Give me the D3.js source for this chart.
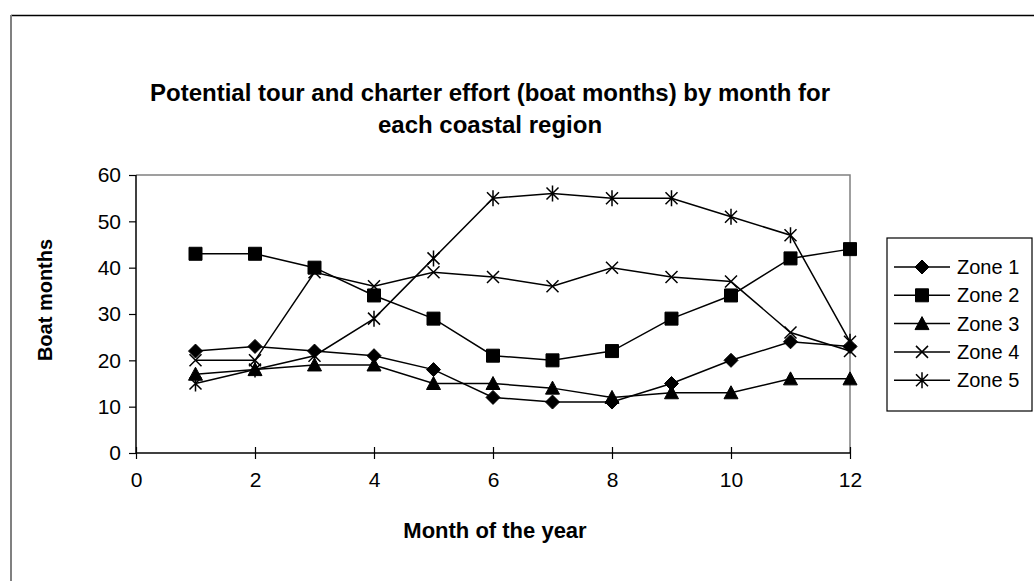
<!DOCTYPE html>
<html><head><meta charset="utf-8">
<script src="https://cdn.jsdelivr.net/npm/d3@7"></script>
<style>body{margin:0;background:#fff}svg{display:block}text{font-family:"Liberation Sans",Arial,sans-serif;fill:#000}</style>
</head><body>
<script>
const months = [1,2,3,4,5,6,7,8,9,10,11,12];
const zoneNames = ["Zone 1","Zone 2","Zone 3","Zone 4","Zone 5"];
const zone1 = [22,23,22,21,18,12,11,11,15,20,24,23];
const zone2 = [43,43,40,34,29,21,20,22,29,34,42,44];
const zone3 = [17,18,19,19,15,15,14,12,13,13,16,16];
const zone4 = [20,20,39,36,39,38,36,40,38,37,26,22];
const zone5 = [15,18,21,29,42,55,56,55,55,51,47,24];
const xTicks = [0,2,4,6,8,10,12];
const yTicks = [0,10,20,30,40,50,60];
const titleLines = ["Potential tour and charter effort (boat months) by month for","each coastal region"];

const W=1034,H=581;
const svg=d3.select("body").append("svg").attr("width",W).attr("height",H);
svg.append("line").attr("x1",11).attr("x2",W).attr("y1",15.5).attr("y2",15.5).attr("stroke","#000").attr("stroke-width",1.5);
svg.append("line").attr("x1",11).attr("x2",11).attr("y1",15).attr("y2",H).attr("stroke","#808080").attr("stroke-width",2);

const x=d3.scaleLinear().domain([0,12]).range([136,850]);
const y=d3.scaleLinear().domain([0,60]).range([453,175]);

svg.append("path").attr("d",`M${x(0)},${y(60)}H${x(12)}V${y(0)}`).attr("fill","none").attr("stroke","#808080").attr("stroke-width",1.5);

const ya=svg.append("g").attr("transform",`translate(${x(0)},0)`).call(d3.axisLeft(y).tickValues(yTicks).tickSize(7).tickPadding(8).tickFormat(d3.format("d")));
const xa=svg.append("g").attr("transform",`translate(0,${y(0)})`).call(d3.axisBottom(x).tickValues(xTicks).tickSize(6).tickPadding(13).tickFormat(d3.format("d")));
xa.selectAll(".tick line").attr("y1",-6);
[ya,xa].forEach(g=>{g.selectAll("path.domain").attr("stroke","#000").attr("stroke-width",1.5);
 g.selectAll(".tick line").attr("stroke","#000").attr("stroke-width",1.2);
 g.selectAll("text").style("font-size","21px").style("font-family","'Liberation Sans',Arial,sans-serif").attr("fill","#000");});
ya.select("path.domain").attr("d",`M0,${y(60)}V${y(0)}`);
xa.select("path.domain").attr("d",`M${x(0)},0H${x(12)}`);

svg.append("text").attr("text-anchor","middle").style("font-weight","bold").style("font-size","24px")
 .selectAll("tspan").data(titleLines).join("tspan").attr("x",490).attr("y",(d,i)=>101+i*32).text(d=>d);
svg.append("text").attr("transform",`translate(45,300) rotate(-90)`).attr("text-anchor","middle").attr("dy","0.35em")
 .style("font-weight","bold").style("font-size","20px").text("Boat months");
svg.append("text").attr("x",495).attr("y",530).attr("text-anchor","middle").attr("dy","0.35em")
 .style("font-weight","bold").style("font-size","22px").text("Month of the year");

function marker(kind){
 switch(kind){
  case 0: return "M0,-7L7,0L0,7L-7,0Z";
  case 1: return "M-6.5,-6.5H6.5V6.5H-6.5Z";
  case 2: return "M0,-7L7,6H-7Z";
  case 3: return "M-6,-6L6,6M-6,6L6,-6";
  case 4: return "M-6,-6L6,6M-6,6L6,-6M0,-8V8";
 }
}
const series=[zone1,zone2,zone3,zone4,zone5];
const line=d3.line().x((d,i)=>x(months[i])).y(d=>y(d));
series.forEach((s,k)=>{
 const g=svg.append("g");
 g.append("path").attr("d",line(s)).attr("fill","none").attr("stroke","#000").attr("stroke-width",1.5);
 g.selectAll("path.m").data(s).join("path").attr("class","m")
  .attr("transform",(d,i)=>`translate(${x(months[i])},${y(d)})`).attr("d",marker(k))
  .attr("fill",k<3?"#000":"none").attr("stroke","#000").attr("stroke-width",k<3?1:1.5);
});

const lg=svg.append("g");
lg.append("rect").attr("x",887).attr("y",238).attr("width",145).attr("height",173).attr("fill","#fff").attr("stroke","#000").attr("stroke-width",1.2);
zoneNames.forEach((n,k)=>{
 const cy=267+k*28.3;
 lg.append("line").attr("x1",894).attr("x2",950).attr("y1",cy).attr("y2",cy).attr("stroke","#000").attr("stroke-width",1.5);
 lg.append("path").attr("transform",`translate(922,${cy})`).attr("d",marker(k)).attr("fill",k<3?"#000":"none").attr("stroke","#000").attr("stroke-width",k<3?1:1.5);
 lg.append("text").attr("x",957).attr("y",cy).attr("dy","0.35em").style("font-size","20px").text(n);
});
</script>
</body></html>
